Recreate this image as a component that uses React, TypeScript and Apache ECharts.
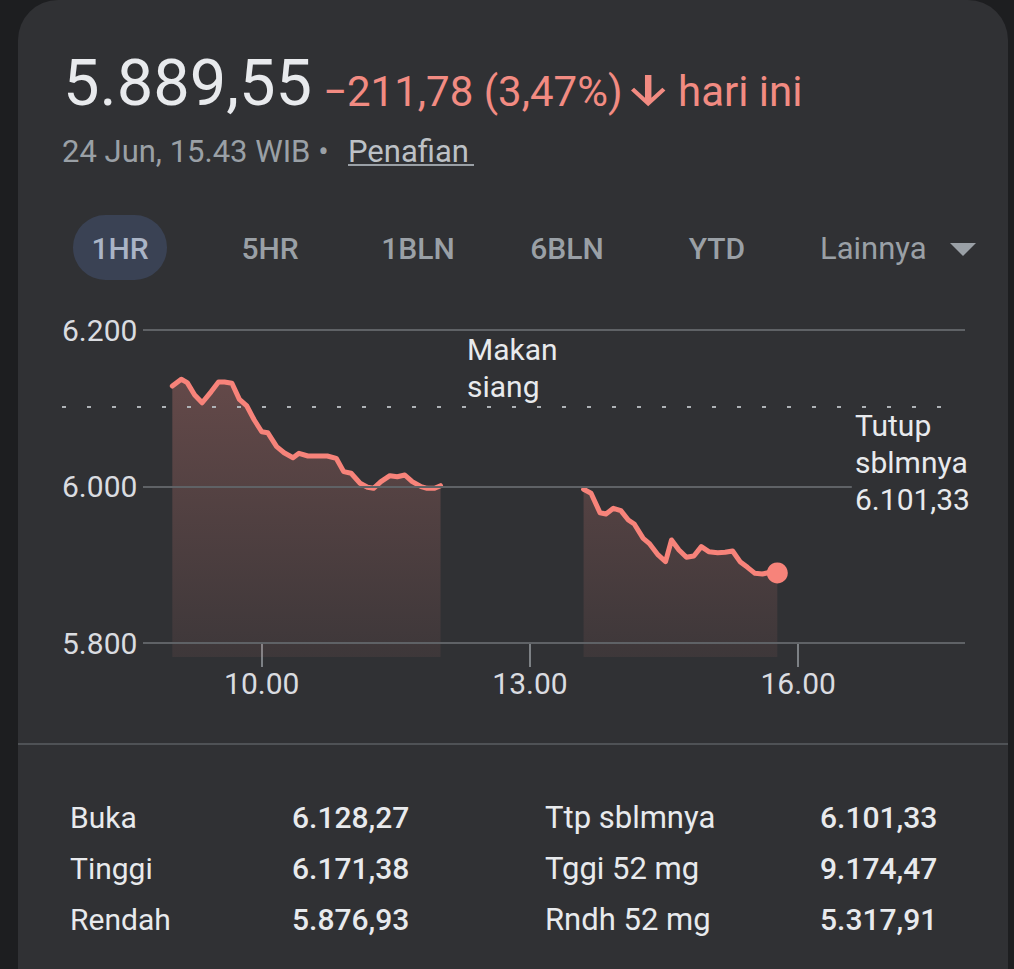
import React, { useEffect, useRef } from "react";
import * as echarts from "echarts";

const prevClose = 6101.33;
const lastPrice = 5889.55;
const timestampText = "24 Jun, 15.43 WIB •";
const disclaimerText = "Penafian";
const todayText = "hari ini";
const rangeTabs = ["1HR", "5HR", "1BLN", "6BLN", "YTD"];
const moreTab = "Lainnya";
const lunchText = "Makan\nsiang";
const prevCloseLabel = "Tutup\nsblmnya";
const xTickHours = [10, 13, 16];
const yTicks = [5800, 6000, 6200];

const morningTimes = [
  "9:00", "9:06", "9:10", "9:15", "9:20", "9:26", "9:31", "9:35", "9:40", "9:45", "9:50", "9:55",
  "10:00", "10:04", "10:10", "10:15", "10:21", "10:25", "10:31", "10:37", "10:44", "10:50", "10:55",
  "11:00", "11:06", "11:11", "11:15", "11:20", "11:26", "11:31", "11:36", "11:41", "11:47", "11:51", "11:56", "12:00",
];
const morningValues = [
  6128.3, 6137, 6132.7, 6117, 6107, 6121, 6133.5, 6133.5, 6131.9, 6111.4, 6102.9, 6085,
  6070, 6068.8, 6050.9, 6043.2, 6036.8, 6042.4, 6039, 6039, 6039, 6036, 6019,
  6016.9, 6004.2, 5999, 5997.7, 6006.2, 6013.8, 6012.5, 6014.7, 6006.2, 5999.9, 5997.7, 5997.7, 6001,
];
const afternoonTimes = [
  "13:36", "13:41", "13:47", "13:51", "13:56", "14:01", "14:06", "14:10", "14:16", "14:20", "14:26",
  "14:31", "14:35", "14:40", "14:45", "14:50", "14:55", "15:00", "15:06", "15:11", "15:16", "15:21",
  "15:26", "15:31", "15:36", "15:42", "15:46",
];
const afternoonValues = [
  5996.4, 5991.3, 5966.5, 5964.9, 5972.1, 5969.1, 5957.2, 5952.1, 5933.8, 5927.4, 5912.5,
  5903.9, 5931.6, 5918.8, 5909.5, 5911.2, 5923.1, 5916.7, 5915.4, 5915.9, 5917.6, 5903.9,
  5896.7, 5889, 5888.2, 5890.7, 5889.55,
];

const statLabelsLeft = ["Buka", "Tinggi", "Rendah"];
const statValuesLeft = [6128.27, 6171.38, 5876.93];
const statLabelsRight = ["Ttp sblmnya", "Tggi 52 mg", "Rndh 52 mg"];
const statValuesRight = [6101.33, 9174.47, 5317.91];

const FONT = "Roboto, 'Noto Sans', sans-serif";
const RED = "#f28b82";
const LINE_RED = "#f7837a";
const TEXT = "#e8eaed";
const GRAY = "#9aa0a6";

function fmtID(v: number): string {
  const fixed = Math.abs(v).toFixed(2);
  const [i, d] = fixed.split(".");
  return i.replace(/\B(?=(\d{3})+(?!\d))/g, ".") + "," + d;
}
function toHours(t: string): number {
  const [h, m] = t.split(":").map(Number);
  return h + m / 60;
}

export default function App() {
  const ref = useRef<HTMLDivElement>(null);
  useEffect(() => {
    if (!ref.current) return;
    const chart = echarts.init(ref.current, null, { renderer: "svg" });

    const morning = morningTimes.map((t, i) => [toHours(t), morningValues[i]]);
    const afternoon = afternoonTimes.map((t, i) => [toHours(t), afternoonValues[i]]);
    const lastPoint = afternoon[afternoon.length - 1];

    const xMin = 7.766;
    const xMax = 17.866;
    const gridStart = 8.672;
    const midLineEnd = 16.6;
    const dottedEnd = 17.79;
    const areaOrigin = 5782.1;

    const change = lastPrice - prevClose;
    const pct = (Math.abs(change) / prevClose) * 100;
    const changeText = `${change < 0 ? "−" : "+"}${fmtID(change)} (${pct.toFixed(2).replace(".", ",")}%)`;

    const areaColor = new echarts.graphic.LinearGradient(
      0, 330, 0, 657,
      [
        { offset: 0, color: "rgba(242,139,130,0.30)" },
        { offset: 1, color: "rgba(242,139,130,0.07)" },
      ],
      true
    );

    const priceSeries = (data: number[][]) => ({
      type: "line",
      data,
      symbol: "none",
      clip: false,
      z: 3,
      lineStyle: { color: LINE_RED, width: 5, join: "round", cap: "round" },
      itemStyle: { color: LINE_RED },
      areaStyle: { color: areaColor, origin: areaOrigin, opacity: 1 },
      emphasis: { disabled: true },
    });

    // arrow (material arrow_downward)
    const arrowPts = [
      [20, 12], [18.59, 10.59], [13.5, 15.7], [13.5, 4], [10.5, 4], [10.5, 15.7], [5.42, 10.58], [4, 12], [12, 20],
    ].map(([x, y]) => [631 + (x - 4) * 2.15, 75 + (y - 4) * 1.95]);

    const tabCenters = [120, 270, 418, 567, 717];

    const graphics: any[] = [
      { type: "rect", z: -10, shape: { x: 18, y: 0, width: 990, height: 1200, r: 40 }, style: { fill: "#303134" } },
      { type: "text", z: 10, style: { text: fmtID(lastPrice), x: 63, y: 83, fill: TEXT, font: `400 65px ${FONT}`, verticalAlign: "middle" } },
      { type: "text", z: 10, style: { text: changeText, x: 323, y: 91, fill: RED, font: `400 42px ${FONT}`, verticalAlign: "middle" } },
      { type: "polygon", z: 10, shape: { points: arrowPts }, style: { fill: RED } },
      { type: "text", z: 10, style: { text: todayText, x: 678, y: 91, fill: RED, font: `400 42px ${FONT}`, verticalAlign: "middle" } },
      { type: "text", z: 10, style: { text: timestampText, x: 62, y: 151, fill: GRAY, font: `400 31px ${FONT}`, verticalAlign: "middle" } },
      { type: "text", z: 10, style: { text: disclaimerText, x: 348, y: 151, fill: "#bdc1c6", font: `400 31px ${FONT}`, verticalAlign: "middle" } },
      { type: "line", z: 10, shape: { x1: 348, y1: 165, x2: 474, y2: 165 }, style: { stroke: "#9aa0a6", lineWidth: 2 } },
      { type: "rect", z: 5, shape: { x: 73, y: 215, width: 94, height: 65, r: 32.5 }, style: { fill: "#3a4254" } },
      ...rangeTabs.map((t, i) => ({
        type: "text", z: 10,
        style: { text: t, x: tabCenters[i], y: 248, fill: i === 0 ? "#aab4c6" : GRAY, font: `500 30px ${FONT}`, align: "center", verticalAlign: "middle" },
      })),
      { type: "text", z: 10, style: { text: moreTab, x: 820, y: 248, fill: GRAY, font: `400 31px ${FONT}`, verticalAlign: "middle" } },
      { type: "polygon", z: 10, shape: { points: [[950, 243], [976, 243], [963, 256]] }, style: { fill: GRAY } },
      { type: "text", z: 10, style: { text: lunchText, x: 467, y: 331, fill: TEXT, font: `400 30px ${FONT}`, lineHeight: 37, verticalAlign: "top" } },
      { type: "text", z: 10, style: { text: `${prevCloseLabel}\n${fmtID(prevClose)}`, x: 855, y: 407, fill: TEXT, font: `400 30px ${FONT}`, lineHeight: 37, verticalAlign: "top" } },
      { type: "line", z: 10, shape: { x1: 18, y1: 744, x2: 1008, y2: 744 }, style: { stroke: "#4f5256", lineWidth: 2 } },
    ];
    const rowY = [817, 868, 919];
    statLabelsLeft.forEach((l, i) => {
      graphics.push({ type: "text", z: 10, style: { text: l, x: 70, y: rowY[i], fill: TEXT, font: `400 30px ${FONT}`, verticalAlign: "middle" } });
      graphics.push({ type: "text", z: 10, style: { text: fmtID(statValuesLeft[i]), x: 292, y: rowY[i], fill: TEXT, font: `500 30px ${FONT}`, verticalAlign: "middle" } });
    });
    statLabelsRight.forEach((l, i) => {
      graphics.push({ type: "text", z: 10, style: { text: l, x: 545, y: rowY[i], fill: TEXT, font: `400 31px ${FONT}`, verticalAlign: "middle" } });
      graphics.push({ type: "text", z: 10, style: { text: fmtID(statValuesRight[i]), x: 820, y: rowY[i], fill: TEXT, font: `500 30px ${FONT}`, verticalAlign: "middle" } });
    });

    const gridLineData = yTicks.map((v) => [
      { coord: [gridStart, v] },
      { coord: [v === 6000 ? midLineEnd : xMax, v] },
    ]);

    chart.setOption({
      animation: false,
      backgroundColor: "#1d1e20",
      textStyle: { fontFamily: FONT },
      grid: { left: 62, right: 49, top: 330, bottom: 326, containLabel: false, outerBoundsMode: "none" },
      xAxis: {
        type: "value",
        min: xMin,
        max: xMax,
        axisLine: { show: false },
        splitLine: { show: false },
        axisTick: { show: true, customValues: xTickHours, length: 24, lineStyle: { color: "#7d8185", width: 2 } },
        axisLabel: {
          customValues: xTickHours,
          formatter: (v: number) => `${v}.00`,
          color: "#dadce0",
          fontSize: 30,
          fontFamily: FONT,
          margin: 25,
        },
      },
      yAxis: {
        type: "value",
        min: 5800,
        max: 6200,
        interval: 200,
        axisLine: { show: false },
        axisTick: { show: false },
        splitLine: { show: false },
        axisLabel: {
          inside: true,
          margin: 0,
          color: "#dadce0",
          fontSize: 30,
          fontFamily: FONT,
          formatter: (v: number) => fmtID(v).split(",")[0],
        },
      },
      series: [
        {
          type: "line",
          data: [],
          z: 1,
          silent: true,
          markLine: {
            silent: true,
            symbol: ["none", "none"],
            label: { show: false },
            lineStyle: { color: "#5f6266", width: 2, type: "solid" },
            data: [
              ...gridLineData,
              [
                { coord: [xMin, prevClose], lineStyle: { color: "#aeb2b6", width: 2, type: [4, 21] } },
                { coord: [dottedEnd, prevClose] },
              ],
            ],
          },
        },
        priceSeries(morning),
        priceSeries(afternoon),
        {
          type: "scatter",
          data: [lastPoint],
          symbol: "circle",
          symbolSize: 21,
          z: 5,
          clip: false,
          itemStyle: { color: LINE_RED, opacity: 1 },
          emphasis: { disabled: true },
        },
      ],
      graphic: { elements: graphics },
    });

    return () => chart.dispose();
  }, []);

  return (
    <div
      ref={ref}
      style={{ position: "fixed", left: 0, top: 0, width: 1014, height: 969 }}
    />
  );
}
